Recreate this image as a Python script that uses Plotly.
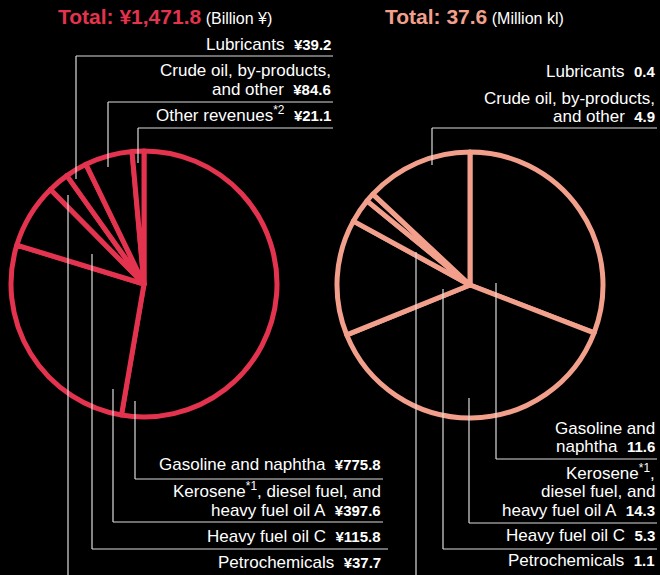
import plotly.graph_objects as go

W, H = 660, 575

# ---------------- data ----------------
left_categories = ["Gasoline and naphtha", "Kerosene, diesel fuel, and heavy fuel oil A",
                   "Heavy fuel oil C", "Petrochemicals", "Lubricants",
                   "Crude oil, by-products, and other", "Other revenues"]
left_values = [775.8, 397.6, 115.8, 37.7, 39.2, 84.6, 21.1]   # Billion yen
left_total = "¥1,471.8"
left_unit = "(Billion ¥)"

right_categories = ["Gasoline and naphtha", "Kerosene, diesel fuel, and heavy fuel oil A",
                    "Heavy fuel oil C", "Petrochemicals", "Lubricants",
                    "Crude oil, by-products, and other"]
right_values = [11.6, 14.3, 5.3, 1.1, 0.4, 4.9]   # Million kl
right_total = "37.6"
right_unit = "(Million kl)"

# display text lines for labels
left_label_lines = [["Gasoline and naphtha"],
                    ["Kerosene<sup>*1</sup>, diesel fuel, and", "heavy fuel oil A"],
                    ["Heavy fuel oil C"],
                    ["Petrochemicals"],
                    ["Lubricants"],
                    ["Crude oil, by-products,", "and other"],
                    ["Other revenues<sup>*2</sup>"]]
right_label_lines = [["Gasoline and", "naphtha"],
                     ["Kerosene<sup>*1</sup>,", "diesel fuel, and", "heavy fuel oil A"],
                     ["Heavy fuel oil C"],
                     ["Petrochemicals"],
                     ["Lubricants"],
                     ["Crude oil, by-products,", "and other"]]

# ---------------- layout / style ----------------
LEFT_COLOR = "#e3334f"
RIGHT_COLOR = "#f2a08c"
LINE_COLOR = "#dcdcdc"
FONT = "Liberation Sans, Arial, sans-serif"
LABEL_SIZE = 17
VALUE_SIZE = 15

# pie geometry (center px, radius px)
left_pie = dict(cx=144, cy=284, r=133)
right_pie = dict(cx=470, cy=285, r=133)

# label placement: (right edge x, baseline of last line, line spacing)
left_label_pos = [(383, 471, 19), (383, 517, 18.5), (383, 543, 19), (383, 569, 19),
                  (333, 51, 19), (333, 96, 19), (333, 122, 19)]
right_label_pos = [(657, 453, 18), (657, 517, 18.5), (657, 542, 19), (657, 567, 19),
                   (657, 78, 19), (657, 123, 18)]
# leader lines: (x, anchor y, underline y or None, underline end x) ; None = no leader
left_leaders = [(135, 401, 479, 383), (113, 389, 522, 383), (92, 254, 549, 388),
                (68, 195, None, None), (76, 179, 56, 333), (108, 167, 102, 333),
                (138, 163, 128, 333)]
right_leaders = [(496, 283, 459, 657), (469, 398, 523, 657), (443, 289, 549, 657),
                 (416, 252, None, None), None, (432, 165, 128, 657)]


def px_x(x):
    return x / W


def px_y(y):
    return 1 - y / H


def pie_domain(p):
    return dict(x=[px_x(p["cx"] - p["r"]), px_x(p["cx"] + p["r"])],
                y=[px_y(p["cy"] + p["r"]), px_y(p["cy"] - p["r"])])


fig = go.Figure()
for cats, vals, p, col in [(left_categories, left_values, left_pie, LEFT_COLOR),
                           (right_categories, right_values, right_pie, RIGHT_COLOR)]:
    fig.add_trace(go.Pie(
        labels=cats, values=vals, sort=False, direction="clockwise", rotation=0,
        textinfo="none", hoverinfo="label+value", showlegend=False,
        marker=dict(colors=["#000000"] * len(vals), line=dict(color=col, width=5)),
        domain=pie_domain(p),
    ))

annotations = []
shapes = []
NB = "\u00a0"


def add_label(lines, value_text, pos):
    right_x, last_base, spacing = pos
    n = len(lines)
    for i, line in enumerate(lines):
        base = last_base - (n - 1 - i) * spacing
        txt = line
        if i == n - 1:
            txt += NB * 2 + f'<span style="font-size:{VALUE_SIZE}px"><b>{value_text}</b></span>'
        annotations.append(dict(
            x=px_x(right_x), y=px_y(base + 0.212 * LABEL_SIZE + 1),
            xref="paper", yref="paper", xanchor="right", yanchor="bottom",
            text=txt, showarrow=False, align="right",
            font=dict(family=FONT, size=LABEL_SIZE, color="#ffffff")))


def add_leader(ld):
    if ld is None:
        return
    x, ya, yu, xe = ld
    y_end = yu if yu is not None else H + 2
    shapes.append(dict(type="line", xref="paper", yref="paper",
                       x0=px_x(x), x1=px_x(x), y0=px_y(ya), y1=px_y(y_end),
                       line=dict(color=LINE_COLOR, width=1.2)))
    if yu is not None:
        shapes.append(dict(type="line", xref="paper", yref="paper",
                           x0=px_x(x), x1=px_x(xe), y0=px_y(yu), y1=px_y(yu),
                           line=dict(color=LINE_COLOR, width=1.2)))


for lines, v, pos, ld in zip(left_label_lines, left_values, left_label_pos, left_leaders):
    add_label(lines, f"¥{v:,.1f}", pos)
    add_leader(ld)
for lines, v, pos, ld in zip(right_label_lines, right_values, right_label_pos, right_leaders):
    add_label(lines, f"{v:.1f}", pos)
    add_leader(ld)

# titles
for x0, col, total, unit in [(56, LEFT_COLOR, "Total: " + left_total, left_unit),
                             (383, RIGHT_COLOR, "Total: " + right_total, right_unit)]:
    annotations.append(dict(
        x=px_x(x0), y=px_y(25 + 0.212 * 21 + 1), xref="paper", yref="paper",
        xanchor="left", yanchor="bottom", showarrow=False,
        text=f'<span style="font-size:21px;color:{col}"><b>{total}</b></span> {unit}',
        font=dict(family=FONT, size=16, color="#ffffff")))

fig.update_layout(
    width=W, height=H, margin=dict(l=0, r=0, t=0, b=0),
    paper_bgcolor="#000000", plot_bgcolor="#000000",
    annotations=annotations, shapes=shapes,
)

fig.write_html("out.html")
